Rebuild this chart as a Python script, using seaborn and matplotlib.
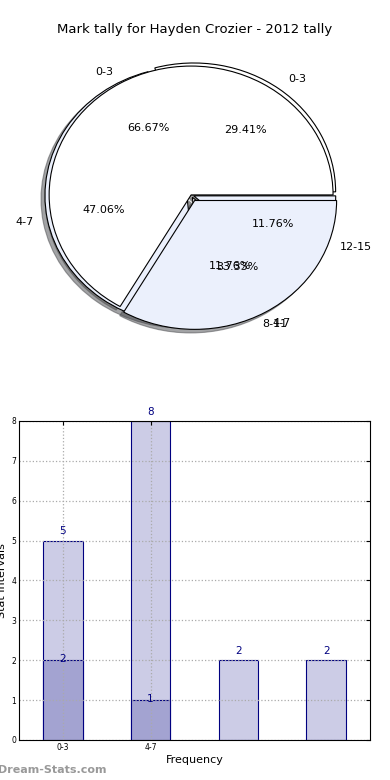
import numpy as np
import pandas as pd
import seaborn as sns
from matplotlib import pyplot as plt

# tally data
intervals = ["0-3", "4-7", "8-11", "12-15"]
tally_a = [2, 1]          # first series (only two intervals)
tally_b = [5, 8, 2, 2]    # second series
title = "Mark tally for Hayden Crozier - 2012 tally"

sns.set_style("white")
plt.rcParams['font.family'] = ['DejaVu Sans']
plt.rcParams['text.color'] = 'black'
plt.rcParams['axes.labelcolor'] = 'black'
plt.rcParams['xtick.color'] = 'black'
plt.rcParams['ytick.color'] = 'black'

fig = plt.figure(figsize=(3.9, 7.8), dpi=100)

# Pie section: both series drawn on the same axes
ax_pie = fig.add_axes([0.035, 0.5436, 0.910, 0.413])
wedge_cols = ["white", "#EBF0FC"]
ax_pie.pie(tally_b, labels=intervals, autopct="%.2f%%", colors=wedge_cols * 2,
           explode=[0.03, 0.03, 0.02, 0.02], shadow=True,
           wedgeprops=dict(edgecolor="black", linewidth=0.8),
           textprops=dict(fontsize=8, color="black"))
ax_pie.pie(tally_a, labels=intervals[:2], autopct="%.2f%%", colors=wedge_cols,
           explode=[0.0, 0.05], shadow=True,
           wedgeprops=dict(edgecolor="black", linewidth=0.8),
           textprops=dict(fontsize=8, color="black"))
ax_pie.set_aspect("auto")
ax_pie.set_xlim(-1.25, 1.25)
ax_pie.set_ylim(-1.25, 1.25)
ax_pie.axis("off")
fig.text(0.5, 0.962, title, ha="center", va="center", fontsize=9.5)

# Bar section
ax = fig.add_axes([0.0487, 0.0513, 0.9, 0.409])
df_b = pd.DataFrame({"interval": intervals, "tally": tally_b})
df_a = pd.DataFrame({"interval": intervals[:2], "tally": tally_a})
sns.barplot(data=df_b, x="interval", y="tally", order=intervals, width=0.45,
            color="#CCCCE6", saturation=1, edgecolor="navy", linewidth=0.8, ax=ax)
sns.barplot(data=df_a, x="interval", y="tally", order=intervals, width=0.45,
            color="#A3A3D1", saturation=1, edgecolor="navy", linewidth=0.8, ax=ax)

for i, v in enumerate(tally_b):
    ax.annotate(str(v), (i, v), xytext=(0, 3), textcoords="offset points",
                ha="center", va="bottom", color="navy", fontsize=7.5)
for i, v in enumerate(tally_a):
    ax.annotate(str(v), (i, v), xytext=(0, 1), textcoords="offset points",
                ha="center", va="center", color="navy", fontsize=7.5)

ax.set_xlim(-0.5, 3.5)
ax.set_ylim(0, 8)
ax.set_yticks(range(0, 9))
ax.set_xticks([0, 1])
ax.set_xticklabels(intervals[:2])
ax.tick_params(axis="both", labelsize=5.5, direction="in", length=3,
               top=True, right=True, pad=2)
ax.grid(True, linestyle=":", color="#aaaaaa", linewidth=0.9)
ax.set_axisbelow(False)
for s in ax.spines.values():
    s.set_color("black")
    s.set_linewidth(0.8)
    s.set_zorder(5)
ax.set_xlabel("Frequency", fontsize=8, labelpad=2)
ax.set_ylabel("Stat Intervals", fontsize=8, labelpad=1)
ax.yaxis.set_label_coords(-0.035, 0.5)

fig.text(-0.005, 0.013, "Dream-Stats.com", ha="left", va="center",
         fontsize=8, color="#999999", fontweight="bold")

fig.savefig("out.png", dpi=100)
